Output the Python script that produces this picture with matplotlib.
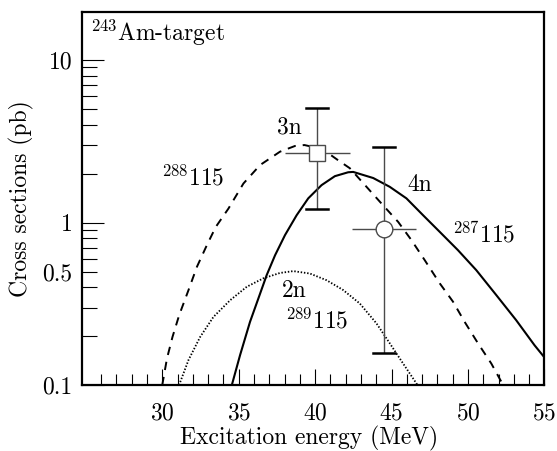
import numpy as np
import matplotlib
matplotlib.use("Agg")
import matplotlib.pyplot as plt
from matplotlib.ticker import FixedLocator, FuncFormatter, NullFormatter

plt.rcParams['font.family'] = 'serif'
plt.rcParams['font.serif'] = ['cmr10', 'DejaVu Serif']
plt.rcParams['mathtext.fontset'] = 'cm'
plt.rcParams['axes.unicode_minus'] = False
plt.rcParams['axes.formatter.use_mathtext'] = True

# 4n channel, 287115 (solid)
E_4n = [34.55, 35.09, 35.74, 36.29, 36.83, 37.38, 38.03, 38.79, 39.55, 40.42, 41.29,
        42.16, 42.49, 43.8, 44.88, 45.97, 47.06, 48.15, 49.34, 50.54, 51.85, 53.15,
        54.35, 55.0]
S_4n = [0.1, 0.153, 0.245, 0.342, 0.475, 0.63, 0.838, 1.11, 1.41, 1.70, 1.93,
        2.04, 2.05, 1.88, 1.66, 1.41, 1.11, 0.877, 0.677, 0.51, 0.358, 0.251,
        0.176, 0.148]

# 3n channel, 288115 (dashed)
E_3n = [30.0, 30.31, 30.67, 31.11, 31.72, 32.27, 32.92, 33.5, 34.33, 35.31, 36.4,
        37.7, 38.68, 39.3, 40.0, 40.86, 41.5, 42.27, 43.36, 44.34, 45.43, 46.3,
        47.17, 48.15, 49.02, 49.78, 50.65, 51.52, 52.3]
S_3n = [0.1, 0.146, 0.198, 0.27, 0.385, 0.535, 0.727, 0.94, 1.22, 1.74, 2.26,
        2.73, 2.96, 3.0, 2.9, 2.67, 2.42, 2.16, 1.66, 1.31, 1.01, 0.78,
        0.587, 0.423, 0.326, 0.245, 0.181, 0.136, 0.1]

# 2n channel, 289115 (dotted)
E_2n = [31.1, 31.72, 32.48, 33.35, 34.44, 35.53, 36.61, 37.7, 38.57, 39.66,
        40.75, 41.83, 42.92, 44.01, 44.88, 45.75, 46.7]
S_2n = [0.1, 0.143, 0.198, 0.263, 0.333, 0.403, 0.454, 0.49, 0.503, 0.486,
        0.442, 0.385, 0.318, 0.24, 0.181, 0.136, 0.1]

# experimental points
E_exp3n, S_exp3n = 40.15, 2.67
E_exp3n_err = 2.1
S_exp3n_lo, S_exp3n_hi = 1.21, 5.08
E_exp4n, S_exp4n = 44.5, 0.91
E_exp4n_err = 2.07
S_exp4n_lo, S_exp4n_hi = 0.158, 2.93

y_major = [0.1, 1, 10]
y_major_labels = ['0.1', '1', '10']
x_major = [30, 35, 40, 45, 50, 55]

fig = plt.figure(figsize=(5.57, 4.51), dpi=100)
ax = fig.add_axes([0.148, 0.146, 0.8295, 0.827])
ax.set_yscale('log')
ax.set_xlim(24.78, 55.0)
ax.set_ylim(0.1, 19.7)

ax.plot(E_4n, S_4n, color='black', lw=1.5, solid_capstyle='butt')
ax.plot(E_3n, S_3n, color='black', lw=1.4, linestyle=(0, (4.3, 3.6)))
ax.plot(E_2n, S_2n, color='black', lw=1.3, linestyle=(0, (0.8, 1.0)))

ecol = '#4a4a4a'
for (x, y, xe, lo, hi, mk, ms) in [
        (E_exp3n, S_exp3n, E_exp3n_err, S_exp3n_lo, S_exp3n_hi, 's', 11.5),
        (E_exp4n, S_exp4n, E_exp4n_err, S_exp4n_lo, S_exp4n_hi, 'o', 12)]:
    ax.errorbar([x], [y], xerr=[[xe], [xe]], fmt='none', ecolor=ecol, elinewidth=1.0,
                capsize=0, zorder=3)
    ax.errorbar([x], [y], yerr=[[y - lo], [hi - y]], fmt='none', ecolor=ecol,
                elinewidth=1.0, capsize=0, zorder=3)
    ax.plot([x - 0.72, x + 0.72], [hi, hi], color='black', lw=1.8, zorder=3)
    ax.plot([x - 0.72, x + 0.72], [lo, lo], color='black', lw=1.8, zorder=3)
    ax.plot([x], [y], marker=mk, ms=ms, mfc='white', mec=ecol, mew=1.0,
            linestyle='none', zorder=4)

fs = 17
ax.text(38.32, 3.87, '3n', ha='center', va='center', fontsize=fs)
ax.text(46.84, 1.71, '4n', ha='center', va='center', fontsize=fs)
ax.text(38.66, 0.379, '2n', ha='center', va='center', fontsize=fs)
ax.text(51.05, 0.838, r'$^{287}$115', ha='center', va='center', fontsize=fs)
ax.text(32.02, 1.88, r'$^{288}$115', ha='center', va='center', fontsize=fs)
ax.text(40.12, 0.249, r'$^{289}$115', ha='center', va='center', fontsize=fs)
ax.text(0.162, 0.944, r'$^{243}$Am-target', transform=ax.transAxes,
        ha='center', va='center', fontsize=fs)

ax.yaxis.set_major_locator(FixedLocator(y_major))
ax.yaxis.set_major_formatter(FuncFormatter(lambda v, p: y_major_labels[y_major.index(min(y_major, key=lambda t: abs(t - v)))]))
y_minor = [m * d for d in [0.1, 1] for m in range(2, 10)]
ax.yaxis.set_minor_locator(FixedLocator(y_minor))
ax.yaxis.set_minor_formatter(FuncFormatter(lambda v, p: '0.5' if abs(v - 0.5) < 1e-6 else ''))

ax.xaxis.set_major_locator(FixedLocator(x_major))
ax.xaxis.set_minor_locator(FixedLocator(list(range(26, 55))))
ax.xaxis.set_minor_formatter(NullFormatter())

ax.tick_params(axis='both', which='both', direction='in', top=False, right=False,
               labelsize=fs, width=0.8, colors='black')
ax.tick_params(axis='y', which='major', length=16, pad=7)
ax.tick_params(axis='y', which='minor', length=10.5, pad=7)
ax.tick_params(axis='x', which='major', length=11.5, pad=12.5)
ax.tick_params(axis='x', which='minor', length=8)

for s in ax.spines.values():
    s.set_linewidth(1.6)

ax.set_xlabel('Excitation energy (MeV)', fontsize=fs, va='center')
ax.set_ylabel('Cross sections (pb)', fontsize=fs, va='center')
ax.xaxis.set_label_coords(0.491, -0.143)
ax.yaxis.set_label_coords(-0.132, 0.5)

fig.savefig('out.png', dpi=100)
